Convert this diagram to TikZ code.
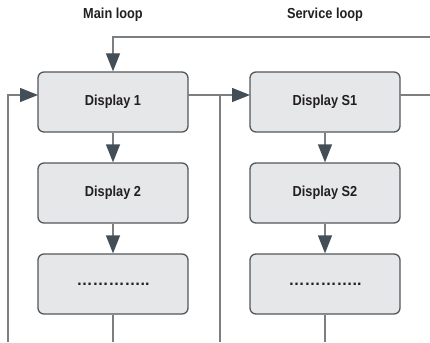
\documentclass[tikz,border=0pt]{standalone}
\usepackage{fontspec}
\setmainfont{Liberation Sans}
\newfontfamily\condfont{Liberation Sans}[FakeStretch=0.88]
\usetikzlibrary{arrows.meta}
\definecolor{boxfill}{HTML}{E6E7E8}
\definecolor{boxline}{HTML}{53585C}
\definecolor{conn}{HTML}{7C7F82}
\definecolor{tipc}{HTML}{434E57}
\definecolor{txt}{HTML}{231F20}
\tikzset{
  dispbox/.style={draw=boxline, fill=boxfill, line width=1.3pt, rounded corners=6pt,
    minimum width=150pt, minimum height=60pt, inner sep=0pt, text=txt,
    font=\condfont\fontsize{14.5}{16}\selectfont\bfseries},
  dotbox/.style={dispbox, font=\fontsize{16}{18}\selectfont\bfseries},
  title/.style={text=txt, font=\condfont\fontsize{14.5}{16}\selectfont\bfseries, inner sep=0pt},
  conline/.style={draw=conn, line width=1.3pt},
  arr/.style={conline, -{Triangle[length=18pt, width=14pt, fill=tipc, color=tipc]}},
}
\begin{document}
\begin{tikzpicture}[x=1pt, y=-1pt]
\useasboundingbox (0,0) rectangle (430,342);
% boxes
\node[dispbox] (d1) at (113,102) {Display 1};
\node[dispbox] (d2) at (113,193) {Display 2};
\node[dotbox] (d3) at (113,284) {\raisebox{-2pt}{\char"2026\char"2026\char"2026\char"2026..}};
\node[dispbox] (s1) at (325,102) {Display S1};
\node[dispbox] (s2) at (325,193) {Display S2};
\node[dotbox] (s3) at (325,284) {\raisebox{-2pt}{\char"2026\char"2026\char"2026\char"2026..}};
% titles
\node[title] (t1) at (113,15) {Main loop};
\node[title] (t2) at (325,15) {Service loop};
% coordinates
\coordinate (topR) at (430,37);
\coordinate (topL) at (113,37);
\coordinate (leftB) at (8,342);
\coordinate (leftT) at (8,95);
\coordinate (d1in) at (38,95);
\coordinate (d1out) at (188,95);
\coordinate (midT) at (220,95);
\coordinate (midB) at (220,342);
\coordinate (s1in) at (250,95);
\coordinate (s1out) at (400,95);
\coordinate (rightE) at (430,95);
\coordinate (d3b) at (113,342);
\coordinate (s3b) at (325,342);
% connectors
\draw[arr] (topR) -- (topL) -- (d1.north);
\draw[arr] (leftB) -- (leftT) -- (d1in);
\draw[conline] (d1out) -- (midT);
\draw[arr] (midT) -- (s1in);
\draw[conline] (midT) -- (midB);
\draw[conline] (s1out) -- (rightE);
\draw[arr] (d1) -- (d2);
\draw[arr] (d2) -- (d3);
\draw[conline] (d3) -- (d3b);
\draw[arr] (s1) -- (s2);
\draw[arr] (s2) -- (s3);
\draw[conline] (s3) -- (s3b);
\end{tikzpicture}
\end{document}
